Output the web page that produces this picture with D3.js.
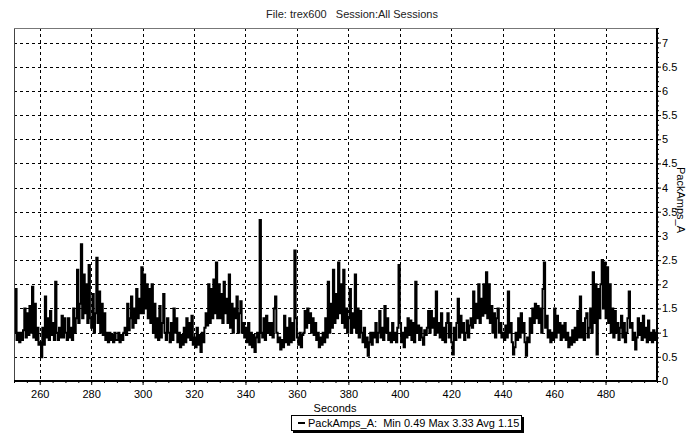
<!DOCTYPE html>
<html>
<head>
<meta charset="utf-8">
<script src="https://cdn.jsdelivr.net/npm/d3@7"></script>
<style>
	body {margin:0; background:#fff;}
	svg text {font-family:"Liberation Sans", Arial, sans-serif; font-size:11px; fill:#000; white-space:pre;}
</style>
</head>
<body>
<svg id="chart" width="688" height="433"></svg>
<script>
/* Datos */
var chartTitle = "File: trex600   Session:All Sessions";
var xLabel = "Seconds";
var yLabel = "PackAmps_A";
var legendText = "PackAmps_A:  Min 0.49 Max 3.33 Avg 1.15";
var xTicks = [260, 280, 300, 320, 340, 360, 380, 400, 420, 440, 460, 480];
var yTicks = [0, 0.5, 1, 1.5, 2, 2.5, 3, 3.5, 4, 4.5, 5, 5.5, 6, 6.5, 7];
var startSec = 250, stepSec = 0.5;	// una muestra cada medio segundo
var packAmps = [
	1.0,1.9,0.85,1.0,0.8,1.0,0.85,1.05,1.5,0.9,1.4,0.95,1.55,1.0,1.95,0.9,1.6,0.85,1.1,0.75,	// 250
	0.8,0.49,1.1,0.75,1.75,0.9,1.3,0.85,1.45,0.95,1.2,0.85,2.05,1.0,0.85,1.1,0.9,1.35,0.9,1.3,	// 260
	1.0,0.85,1.3,0.9,1.1,0.85,1.5,1.0,1.3,2.3,1.2,1.6,2.83,1.3,2.2,1.4,2.0,1.2,2.4,1.3,
	1.1,1.8,1.0,1.4,2.55,1.2,1.85,1.0,1.6,0.95,1.4,0.85,1.0,0.8,1.0,0.85,0.95,0.8,1.0,0.85,
	0.85,1.0,0.8,0.95,0.85,1.0,1.1,0.95,1.6,1.05,1.3,1.75,1.1,1.5,1.2,1.9,1.3,1.7,1.4,2.35,
	1.4,2.2,1.5,2.0,1.3,1.9,1.2,2.0,1.0,1.6,0.9,1.3,0.85,1.55,0.9,1.2,1.8,1.0,0.85,1.3,	// 300
	1.0,0.8,1.2,0.85,1.5,1.0,1.3,0.8,1.0,0.7,0.95,0.75,1.1,0.8,1.3,0.9,1.2,0.85,1.35,0.75,
	0.9,0.7,1.1,0.75,0.95,0.6,1.0,0.8,1.1,1.4,1.15,2.0,1.2,1.9,1.3,2.1,1.4,2.45,1.3,2.0,
	1.3,1.8,1.2,2.05,1.4,1.7,1.2,2.2,1.1,1.6,1.0,1.5,1.3,1.75,1.0,1.4,1.65,1.0,1.2,0.9,
	1.1,0.8,1.2,0.75,1.0,0.7,0.95,0.6,0.9,1.0,0.8,3.33,1.0,0.9,1.3,0.85,1.35,1.0,1.2,0.95,
	1.2,0.9,1.5,1.75,1.0,0.8,0.9,0.65,0.85,0.7,1.35,0.8,1.1,0.75,1.3,0.8,1.2,0.85,2.7,1.3,	// 350
	0.9,0.75,1.0,0.7,0.95,1.0,1.45,1.1,1.5,1.2,1.4,1.0,1.3,0.95,1.2,0.85,1.0,0.7,0.9,0.75,
	1.0,0.8,1.3,0.9,2.05,1.0,1.6,1.1,2.3,1.2,1.8,1.3,2.45,1.4,2.0,1.2,2.3,1.1,1.5,1.0,
	1.3,1.9,1.0,1.4,1.1,2.2,1.0,1.5,0.9,1.45,1.0,0.8,1.1,0.7,0.9,0.52,0.8,1.0,0.75,1.0,
	0.9,1.2,0.8,1.0,1.45,0.9,1.1,0.85,1.55,1.0,1.3,0.85,1.0,0.8,1.2,0.85,1.0,0.8,1.1,2.4,
	1.2,0.8,1.0,0.7,1.1,0.9,1.3,0.95,1.25,0.85,1.2,0.8,2.05,1.0,1.15,0.85,1.1,0.9,0.75,1.05,	// 400
	0.95,1.1,1.45,1.0,1.45,1.1,1.3,0.95,1.85,1.0,1.2,0.9,1.4,0.85,1.1,0.8,1.2,1.4,0.9,1.2,
	0.8,0.55,1.1,0.85,1.2,1.7,0.9,1.35,1.0,1.2,0.85,1.0,1.25,0.9,1.15,1.3,1.1,1.85,1.2,1.6,
	1.3,2.0,1.2,1.7,1.35,2.0,1.4,2.25,1.3,2.0,1.2,1.55,1.0,1.4,0.9,1.3,1.5,1.0,1.2,0.9,
	1.0,0.85,1.15,0.9,1.85,1.0,1.2,0.8,0.55,0.7,1.0,0.85,1.3,0.9,1.4,1.0,1.2,0.8,0.52,0.9,
	0.8,1.3,1.0,1.5,1.2,1.6,1.3,1.55,1.2,1.5,1.0,1.9,2.45,1.1,1.35,0.9,1.05,0.8,1.0,0.85,	// 450
	1.5,0.9,1.35,1.0,1.2,0.85,1.15,0.9,1.2,0.85,1.0,0.7,0.9,0.75,1.05,0.8,1.1,0.85,1.45,0.9,
	1.75,0.9,1.2,0.85,1.3,1.4,0.9,1.1,1.5,1.0,2.25,1.2,2.0,0.55,1.9,1.3,2.0,2.5,1.5,2.45,
	1.3,2.35,1.2,2.0,1.0,1.5,0.9,1.45,1.0,1.2,0.85,1.1,1.35,0.9,1.2,0.8,1.0,1.3,1.85,1.1,
	1.2,0.85,1.0,0.65,0.9,1.3,0.95,1.2,0.85,1.35,0.9,1.1,0.8,1.25,0.85,1.0,0.8,1.05,0.85,1.0,
	0.9
];

var svg = d3.select("#chart");
var plotL = 14, plotR = 657, plotT = 28, plotB = 381;	// "top" está reservado en window

var x = d3.scaleLinear().domain([250, 500]).range([plotL, plotR]);
var y = d3.scaleLinear().domain([0, 7.3]).range([plotB, plotT]);

// título
svg.append("text").attr("x", 352).attr("y", 18).attr("text-anchor", "middle")
	.style("fill", "#222").text(chartTitle);

// rejilla punteada
var grid = svg.append("g").attr("stroke", "#000").attr("stroke-width", 1).attr("stroke-dasharray", "3,3");
xTicks.forEach(function(t) {
	grid.append("line").attr("x1", Math.round(x(t)) + 0.5).attr("x2", Math.round(x(t)) + 0.5)
		.attr("y1", plotT).attr("y2", plotB);
});
yTicks.filter(function(v) {return v > 0;}).forEach(function(v) {
	grid.append("line").attr("x1", plotL).attr("x2", plotR)
		.attr("y1", Math.round(y(v)) + 0.5).attr("y2", Math.round(y(v)) + 0.5);
});

// serie
svg.append("clipPath").attr("id", "plot-clip").append("rect")
	.attr("x", plotL).attr("y", plotT).attr("width", plotR - plotL).attr("height", plotB - plotT);
var line = d3.line()
	.x(function(d, i) {return x(startSec + i * stepSec);})
	.y(function(d) {return y(d);})
	.curve(d3.curveStepAfter);
svg.append("path").datum(packAmps)
	.attr("clip-path", "url(#plot-clip)")
	.attr("fill", "none").attr("stroke", "#000").attr("stroke-width", 2)
	.attr("d", line);

// marco
svg.append("line").attr("x1", plotL + 0.5).attr("x2", plotL + 0.5).attr("y1", plotT).attr("y2", plotB).attr("stroke", "#444");
svg.append("line").attr("x1", plotL).attr("x2", plotR).attr("y1", plotT + 0.5).attr("y2", plotT + 0.5).attr("stroke", "#777");

// eje X
var xAxis = svg.append("g").attr("transform", "translate(0," + plotB + ")")
	.call(d3.axisBottom(x).tickValues(xTicks).tickSize(4).tickPadding(5).tickFormat(d3.format("d")));
svg.append("g").attr("transform", "translate(0," + plotB + ")")
	.call(d3.axisBottom(x).tickValues(d3.range(250, 501, 5)).tickSize(2).tickFormat(""))
	.select(".domain").remove();
xAxis.select(".domain").remove();
svg.append("line").attr("x1", plotL).attr("x2", plotR + 1).attr("y1", plotB).attr("y2", plotB)
	.attr("stroke", "#000").attr("stroke-width", 2);

// eje Y (derecha)
var yAxis = svg.append("g").attr("transform", "translate(" + plotR + ",0)")
	.call(d3.axisRight(y).tickValues(yTicks).tickSize(4).tickPadding(1).tickFormat(d3.format("~g")));
svg.append("g").attr("transform", "translate(" + plotR + ",0)")
	.call(d3.axisRight(y).tickValues(d3.range(0, 7.31, 0.1)).tickSize(2).tickFormat(""))
	.select(".domain").remove();
yAxis.select(".domain").remove();
svg.append("line").attr("x1", plotR).attr("x2", plotR).attr("y1", plotT).attr("y2", plotB + 1)
	.attr("stroke", "#000").attr("stroke-width", 2);
svg.selectAll("g text").attr("font-family", null).attr("font-size", null);

// títulos de ejes
svg.append("text").attr("x", 335).attr("y", 412).attr("text-anchor", "middle").text(xLabel);
svg.append("text").attr("transform", "translate(677,200) rotate(90)")
	.attr("text-anchor", "middle").text(yLabel);

// leyenda
var lg = svg.append("g").attr("transform", "translate(291,415)");
lg.append("rect").attr("x", 2).attr("y", 2).attr("width", 231).attr("height", 16).attr("fill", "#000");
lg.append("rect").attr("x", 0.5).attr("y", 0.5).attr("width", 230).attr("height", 15)
	.attr("fill", "#fff").attr("stroke", "#000");
lg.append("line").attr("x1", 7).attr("x2", 14).attr("y1", 8).attr("y2", 8).attr("stroke", "#000").attr("stroke-width", 2);
lg.append("text").attr("x", 17).attr("y", 12).text(legendText);
</script>
</body>
</html>
